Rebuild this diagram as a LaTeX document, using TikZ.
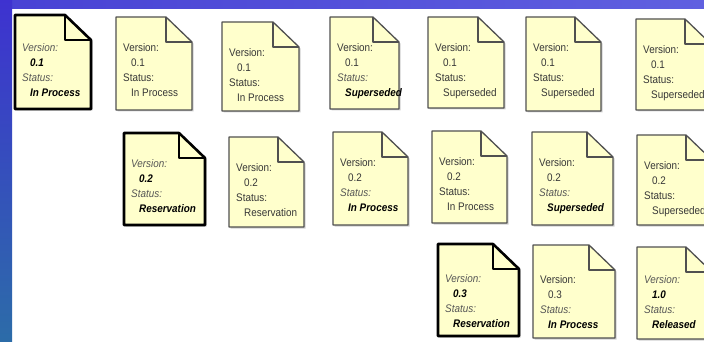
\documentclass[tikz,border=0pt]{standalone}
\usepackage{fontspec}
\setmainfont[FakeStretch=0.9]{Liberation Sans}
\definecolor{docyellow}{RGB}{255,255,204}
\definecolor{docedge}{RGB}{80,80,80}
\definecolor{txt}{RGB}{55,55,55}
\definecolor{labit}{RGB}{85,85,85}
\definecolor{bandL}{RGB}{72,66,212}
\definecolor{bandR}{RGB}{96,96,224}
\definecolor{stripT}{RGB}{62,50,208}
\definecolor{stripB}{RGB}{44,108,168}
\tikzset{
  docplain/.style={draw=docedge, line width=1.3pt, line join=round},
  docbold/.style={draw=black, line width=2.6pt, line join=round},
  doctext/.style={inner sep=0pt, align=left, font=\fontsize{11}{15}\selectfont, text=txt},
}
\newcommand\lab[1]{{\itshape\color{labit}#1}}
\newcommand\val[1]{{\bfseries\itshape\color{black}#1}}
\newcommand\ind{\hspace*{8pt}}
% #1 name, #2 left, #3 top, #4 right, #5 bottom, #6 frame style, #7 text y offset, #8 text
\newcommand\docnote[8]{%
  \fill[black,opacity=0.18] (#2+1.5,#3+1.5) -- (#4-24.5,#3+1.5) -- (#4+1.5,#3+26.5) -- (#4+1.5,#5+1.5) -- (#2+1.5,#5+1.5) -- cycle;
  \filldraw[fill=docyellow,#6] (#2,#3) -- (#4-26,#3) -- (#4,#3+25) -- (#4,#5) -- (#2,#5) -- cycle;
  \draw[#6] (#4-26,#3) -- (#4-26,#3+25) -- (#4,#3+25);
  \node[doctext,anchor=north west] (#1) at (#2+7,#3+#7) {#8};
}
\begin{document}
\begin{tikzpicture}[x=1pt,y=-1pt]
\useasboundingbox (0,0) rectangle (704,342);
\clip (0,0) rectangle (704,342);
\fill[white] (0,0) rectangle (704,342);
\shade[left color=bandL,right color=bandR] (0,0) rectangle (704,9);
\shade[top color=stripT,bottom color=stripB] (0,0) rectangle (12,342);
% row 1
\docnote{a1}{15}{15}{91}{109}{docbold}{28}{\lab{Version:}\\\ind\val{0.1}\\\lab{Status:}\\\ind\val{In Process}}
\docnote{a2}{116}{17}{192}{110}{docplain}{26}{Version:\\\ind 0.1\\Status:\\\ind In Process}
\docnote{a3}{222}{22}{299}{111}{docplain}{26}{Version:\\\ind 0.1\\Status:\\\ind In Process}
\docnote{a4}{330}{17}{399}{109}{docplain}{26}{Version:\\\ind 0.1\\\lab{Status:}\\\ind\val{Superseded}}
\docnote{a5}{428}{17}{504}{108}{docplain}{26}{Version:\\\ind 0.1\\Status:\\\ind Superseded}
\docnote{a6}{526}{17}{601}{111}{docplain}{26}{Version:\\\ind 0.1\\Status:\\\ind Superseded}
\docnote{a7}{636}{19}{711}{110}{docplain}{26}{Version:\\\ind 0.1\\Status:\\\ind Superseded}
% row 2
\docnote{b1}{124}{133}{205}{225}{docbold}{26}{\lab{Version:}\\\ind\val{0.2}\\\lab{Status:}\\\ind\val{Reservation}}
\docnote{b2}{229}{137}{304}{227}{docplain}{26}{Version:\\\ind 0.2\\Status:\\\ind Reservation}
\docnote{b3}{333}{132}{408}{225}{docplain}{26}{Version:\\\ind 0.2\\\lab{Status:}\\\ind\val{In Process}}
\docnote{b4}{432}{131}{507}{223}{docplain}{26}{Version:\\\ind 0.2\\Status:\\\ind In Process}
\docnote{b5}{532}{132}{613}{225}{docplain}{26}{Version:\\\ind 0.2\\\lab{Status:}\\\ind\val{Superseded}}
\docnote{b6}{637}{135}{712}{225}{docplain}{26}{Version:\\\ind 0.2\\Status:\\\ind Superseded}
% row 3
\docnote{c1}{438}{244}{519}{336}{docbold}{30}{\lab{Version:}\\\ind\val{0.3}\\\lab{Status:}\\\ind\val{Reservation}}
\docnote{c2}{533}{245}{615}{338}{docplain}{30}{Version:\\\ind 0.3\\\lab{Status:}\\\ind\val{In Process}}
\docnote{c3}{637}{247}{712}{339}{docplain}{28}{\lab{Version:}\\\ind\val{1.0}\\\lab{Status:}\\\ind\val{Released}}
\end{tikzpicture}
\end{document}
